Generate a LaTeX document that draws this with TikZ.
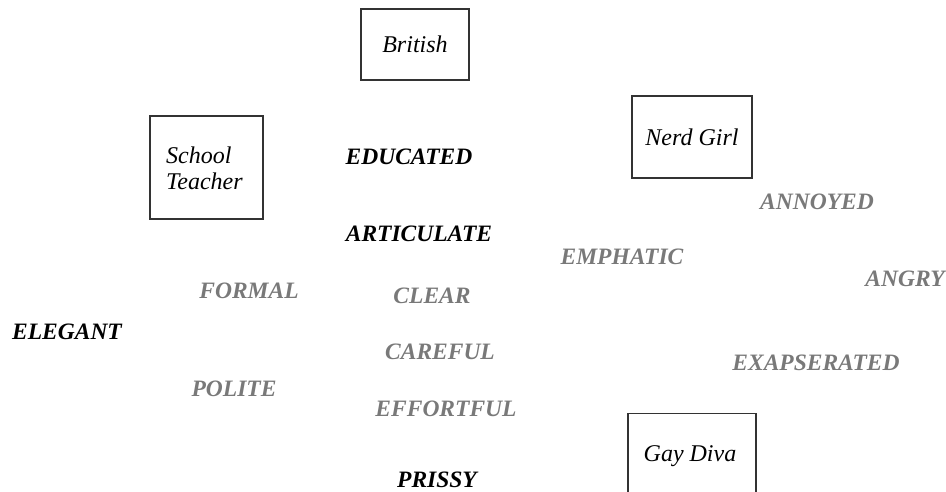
\documentclass[tikz,border=0pt]{standalone}
\usepackage{fontspec}
\setmainfont{Liberation Serif}
\begin{document}
\begin{tikzpicture}[x=1pt,y=1pt,
  boxfont/.style={font=\fontsize{24}{26}\selectfont\itshape},
  box/.style={draw=black!80, line width=1.2pt, inner sep=0pt, boxfont},
  dark/.style={inner sep=0pt, font=\fontsize{23.5}{26}\selectfont\bfseries\itshape, text=black},
  light/.style={inner sep=0pt, font=\fontsize{23.5}{26}\selectfont\bfseries\itshape, text=gray!95!black}]
\useasboundingbox (0,0) rectangle (946,491);
\node[box, minimum width=108, minimum height=71] (british) at (415,446.5) {British};
\node[box, minimum width=113, minimum height=103] (teacher) at (206.5,323.5) {};
\node[boxfont, anchor=west, align=left, inner sep=0pt] (teachertxt) at (166,323) {School\\Teacher};
\node[box, minimum width=120, minimum height=82] (nerd) at (692,354) {Nerd Girl};
\node[box, minimum width=128, minimum height=90, anchor=north] (diva) at (692,78) {};
\node[boxfont, inner sep=0pt] (divatxt) at (690,35) {Gay Diva};
\node[dark] (educated) at (409,334) {EDUCATED};
\node[dark] (articulate) at (419,257) {ARTICULATE};
\node[light] (emphatic) at (622,234) {EMPHATIC};
\node[light] (annoyed) at (817,289) {ANNOYED};
\node[light] (angry) at (905,212) {ANGRY};
\node[light] (formal) at (249,200) {FORMAL};
\node[light] (clear) at (432,195) {CLEAR};
\node[dark] (elegant) at (67,159) {ELEGANT};
\node[light] (careful) at (440,139) {CAREFUL};
\node[light] (exasp) at (816,128) {EXAPSERATED};
\node[light] (polite) at (234,102) {POLITE};
\node[light] (effortful) at (446,82) {EFFORTFUL};
\node[dark] (prissy) at (437,11) {PRISSY};
\end{tikzpicture}
\end{document}
